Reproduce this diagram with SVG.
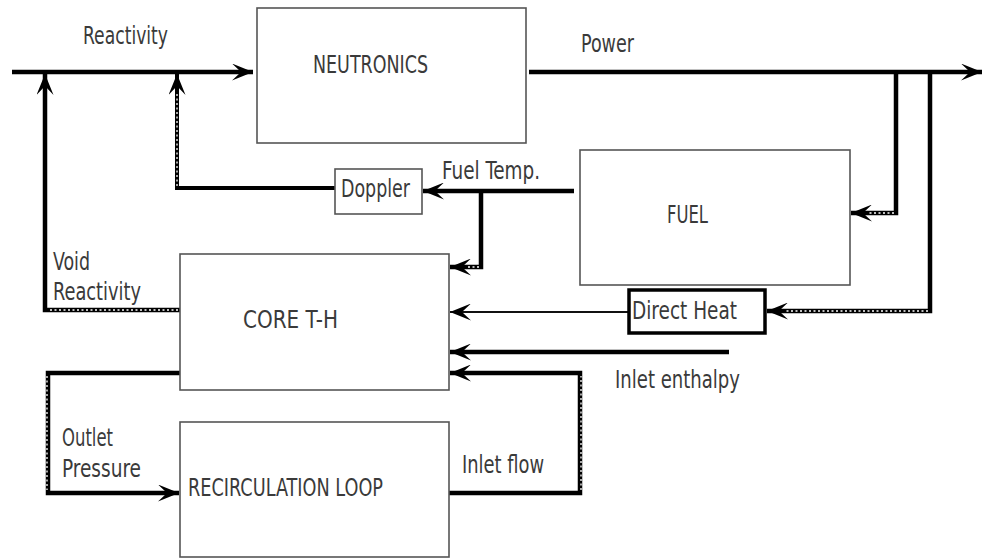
<svg xmlns="http://www.w3.org/2000/svg" width="983" height="559" viewBox="0 0 983 559">
<style>
  .box{fill:#fff;stroke:#555;stroke-width:1.6}
  .lbl{font-family:"Liberation Sans Narrow","DejaVu Sans Condensed","Liberation Sans",sans-serif;font-size:24px;fill:#3a3a3a}
  .ln{fill:none;stroke:#000;stroke-width:4.5;stroke-linejoin:miter}
  .thin{fill:none;stroke:#111;stroke-width:2.2}
  .hatch{fill:none;stroke:#fff;stroke-width:1.3;stroke-dasharray:2 2.5}
</style>
<defs>
  <marker id="ah" markerUnits="userSpaceOnUse" markerWidth="21" markerHeight="17" refX="21" refY="8.5" orient="auto" viewBox="0 0 21 17">
    <path d="M0,0 L21,8.5 L0,17 L9,8.5 Z" fill="#000"/>
  </marker>
</defs>
<rect width="983" height="559" fill="#fff"/>

<g id="connectors">
  <!-- reactivity input -->
  <path class="ln" d="M12,72 H253" marker-end="url(#ah)"/>
  <!-- void reactivity -->
  <path class="ln" d="M180,310 H45 V74" marker-end="url(#ah)"/>
  <path class="hatch" d="M178,310 H48"/>
  <!-- doppler reactivity -->
  <path class="ln" d="M335,188 H177 V74" style="stroke-width:4" marker-end="url(#ah)"/>
  <path class="hatch" d="M177,186 V92"/>
  <!-- fuel temp to doppler -->
  <path class="ln" d="M574,191 H423" marker-end="url(#ah)"/>
  <!-- fuel temp branch to core -->
  <path class="ln" d="M481,191 V267 H450" marker-end="url(#ah)"/>
  <path class="hatch" d="M479,267 H466"/>
  <!-- power output -->
  <path class="ln" d="M529,72 H982" marker-end="url(#ah)"/>
  <!-- power to fuel -->
  <path class="ln" d="M896,72 V213 H851" marker-end="url(#ah)"/>
  <path class="hatch" d="M894,213 H868"/>
  <!-- power to direct heat -->
  <path class="ln" d="M930,72 V311 H767" marker-end="url(#ah)"/>
  <path class="hatch" d="M928,311 H784"/>
  <!-- direct heat to core -->
  <path class="thin" d="M628,312 H450" marker-end="url(#ah)"/>
  <!-- inlet enthalpy -->
  <path class="ln" d="M729,352 H450" marker-end="url(#ah)"/>
  <!-- outlet pressure -->
  <path class="ln" d="M180,373 H48 V493 H179" marker-end="url(#ah)"/>
  <path class="hatch" d="M47,376 V490"/>
  <!-- inlet flow -->
  <path class="ln" d="M449,493 H580 V373 H450" marker-end="url(#ah)"/>
  <path class="hatch" d="M581,490 V376"/>
</g>

<g id="neutronics">
  <rect class="box" x="257" y="8" width="269" height="135"/>
  <text class="lbl" x="313" y="73" textLength="115" lengthAdjust="spacingAndGlyphs">NEUTRONICS</text>
</g>
<g id="fuel">
  <rect class="box" x="580" y="150" width="270" height="135"/>
  <text class="lbl" x="667" y="223" textLength="41" lengthAdjust="spacingAndGlyphs">FUEL</text>
</g>
<g id="doppler">
  <rect class="box" x="335" y="169" width="87" height="45"/>
  <text class="lbl" x="341" y="197" textLength="69" lengthAdjust="spacingAndGlyphs">Doppler</text>
</g>
<g id="core-th">
  <rect class="box" x="180" y="254" width="269" height="136"/>
  <text class="lbl" x="243" y="328" textLength="95" lengthAdjust="spacingAndGlyphs">CORE T-H</text>
</g>
<g id="direct-heat">
  <rect x="629" y="290" width="136" height="43" fill="#fff" stroke="#000" stroke-width="3.5"/>
  <text class="lbl" x="632" y="319" textLength="105" lengthAdjust="spacingAndGlyphs">Direct Heat</text>
</g>
<g id="recirculation-loop">
  <rect class="box" x="180" y="422" width="269" height="135"/>
  <text class="lbl" x="188" y="496" textLength="195" lengthAdjust="spacingAndGlyphs">RECIRCULATION LOOP</text>
</g>

<g id="labels">
  <text class="lbl" x="83" y="44" textLength="85" lengthAdjust="spacingAndGlyphs">Reactivity</text>
  <text class="lbl" x="581" y="52" textLength="53" lengthAdjust="spacingAndGlyphs">Power</text>
  <text class="lbl" x="442" y="179" textLength="98" lengthAdjust="spacingAndGlyphs">Fuel Temp.</text>
  <text class="lbl" x="53" y="270" textLength="37" lengthAdjust="spacingAndGlyphs">Void</text>
  <text class="lbl" x="53" y="300" textLength="88" lengthAdjust="spacingAndGlyphs">Reactivity</text>
  <text class="lbl" x="615" y="388" textLength="125" lengthAdjust="spacingAndGlyphs">Inlet enthalpy</text>
  <text class="lbl" x="62" y="446" textLength="51" lengthAdjust="spacingAndGlyphs">Outlet</text>
  <text class="lbl" x="62" y="477" textLength="79" lengthAdjust="spacingAndGlyphs">Pressure</text>
  <text class="lbl" x="462" y="473" textLength="82" lengthAdjust="spacingAndGlyphs">Inlet flow</text>
</g>
</svg>
